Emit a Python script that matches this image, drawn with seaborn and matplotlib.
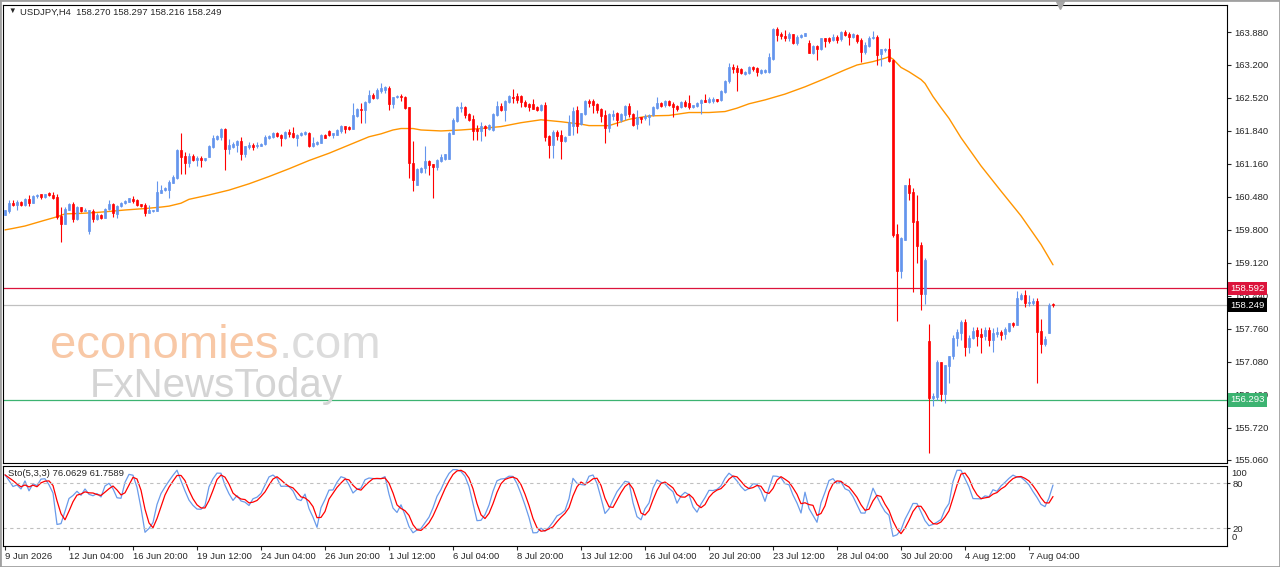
import numpy as np
import pandas as pd
import seaborn as sns
import matplotlib.pyplot as plt
from matplotlib.transforms import blended_transform_factory
from matplotlib.patches import Rectangle

sns.set_style("white")
plt.rcParams['font.family'] = ['Liberation Sans', 'DejaVu Sans']

# USDJPY H4 candles (bar 0 = 9 Jun 2026)
opens = [
    160.11, 160.18, 160.36, 160.31, 160.38, 160.31, 160.44, 160.36, 160.49, 160.54,
    160.47, 160.56, 160.52, 160.48, 160.08, 159.92, 160.22, 160.33, 160.02, 160.27,
    160.19, 159.78, 160.19, 160.02, 160.11, 160.05, 160.24, 160.33, 160.13, 160.29,
    160.35, 160.38, 160.44, 160.42, 160.33, 160.31, 160.15, 160.18, 160.18, 160.57,
    160.62, 160.62, 160.77, 160.86, 161.45, 161.32, 161.17, 161.32, 161.24, 161.28,
    161.24, 161.30, 161.50, 161.67, 161.72, 161.89, 161.47, 161.50, 161.55, 161.64,
    161.36, 161.50, 161.55, 161.52, 161.53, 161.57, 161.69, 161.72, 161.80, 161.76,
    161.69, 161.82, 161.80, 161.69, 161.75, 161.77, 161.80, 161.52, 161.57, 161.60,
    161.76, 161.84, 161.76, 161.76, 161.83, 161.94, 161.93, 161.88, 162.15, 162.29,
    162.27, 162.43, 162.58, 162.51, 162.66, 162.69, 162.73, 162.39, 162.53, 162.57,
    162.55, 162.33, 161.18, 160.72, 161.00, 161.07, 161.22, 161.16, 161.10, 161.21,
    161.26, 161.26, 161.77, 162.04, 162.32, 162.34, 162.18, 162.08, 161.89, 161.84,
    161.95, 161.89, 161.86, 162.17, 162.36, 162.27, 162.44, 162.55, 162.57, 162.57,
    162.43, 162.39, 162.39, 162.33, 162.27, 162.37, 161.74, 161.56, 161.82, 161.75,
    161.63, 161.75, 161.94, 162.27, 161.98, 162.19, 162.46, 162.46, 162.39, 162.29,
    162.17, 161.91, 162.15, 162.20, 162.07, 162.17, 162.35, 162.19, 161.98, 162.12,
    162.10, 162.12, 162.17, 162.31, 162.42, 162.37, 162.46, 162.40, 162.35, 162.33,
    162.44, 162.41, 162.33, 162.35, 162.41, 162.48, 162.44, 162.46, 162.49, 162.48,
    162.65, 162.86, 163.16, 163.14, 163.11, 163.01, 163.03, 163.16, 163.13, 163.04,
    163.05, 163.06, 163.32, 163.95, 163.84, 163.80, 163.75, 163.84, 163.66, 163.77,
    163.80, 163.66, 163.44, 163.59, 163.52, 163.75, 163.75, 163.71, 163.77, 163.73,
    163.89, 163.84, 163.78, 163.82, 163.71, 163.47, 163.59, 163.75, 163.78, 163.43,
    163.50, 163.52, 163.30, 159.71, 158.96, 159.60, 160.72, 160.59, 159.98, 159.49,
    158.48, 157.51, 156.33, 156.36, 157.08, 156.42, 157.00, 157.19, 157.58, 157.68,
    157.91, 157.39, 157.58, 157.73, 157.65, 157.61, 157.74, 157.52, 157.66, 157.70,
    157.65, 157.72, 157.87, 157.83, 158.37, 158.46, 158.30, 158.29, 158.34, 157.72,
    157.45, 157.68, 158.27]

highs = [
    160.22, 160.42, 160.42, 160.42, 160.39, 160.45, 160.52, 160.52, 160.54, 160.55,
    160.55, 160.59, 160.59, 160.55, 160.27, 160.28, 160.36, 160.38, 160.29, 160.28,
    160.25, 160.22, 160.24, 160.14, 160.12, 160.26, 160.42, 160.36, 160.31, 160.37,
    160.42, 160.46, 160.49, 160.43, 160.34, 160.35, 160.31, 160.22, 160.80, 160.73,
    160.68, 160.82, 160.93, 161.46, 161.80, 161.41, 161.39, 161.37, 161.32, 161.32,
    161.29, 161.55, 161.76, 161.76, 161.91, 161.91, 161.67, 161.62, 161.66, 161.72,
    161.53, 161.62, 161.60, 161.62, 161.60, 161.76, 161.76, 161.82, 161.82, 161.77,
    161.83, 161.88, 161.93, 161.78, 161.82, 161.84, 161.82, 161.72, 161.64, 161.77,
    161.77, 161.86, 161.80, 161.87, 161.96, 161.95, 161.94, 162.41, 162.31, 162.42,
    162.46, 162.68, 162.62, 162.72, 162.82, 162.77, 162.77, 162.54, 162.59, 162.61,
    162.57, 162.33, 161.63, 161.07, 161.10, 161.52, 161.25, 161.16, 161.26, 161.36,
    161.37, 161.81, 162.10, 162.36, 162.44, 162.36, 162.20, 162.17, 161.96, 162.03,
    161.96, 161.98, 162.20, 162.46, 162.41, 162.48, 162.59, 162.70, 162.62, 162.59,
    162.48, 162.41, 162.50, 162.35, 162.39, 162.44, 161.75, 161.86, 161.86, 161.86,
    161.74, 162.17, 162.33, 162.35, 162.22, 162.48, 162.49, 162.49, 162.41, 162.31,
    162.27, 162.20, 162.27, 162.24, 162.22, 162.37, 162.41, 162.20, 162.27, 162.13,
    162.19, 162.19, 162.35, 162.53, 162.44, 162.48, 162.48, 162.44, 162.37, 162.46,
    162.48, 162.58, 162.38, 162.44, 162.49, 162.60, 162.53, 162.53, 162.50, 162.68,
    162.89, 163.25, 163.23, 163.20, 163.13, 163.08, 163.18, 163.18, 163.16, 163.12,
    163.12, 163.45, 163.97, 163.99, 163.89, 163.93, 163.87, 163.84, 163.82, 163.84,
    163.86, 163.71, 163.61, 163.61, 163.76, 163.76, 163.78, 163.84, 163.82, 163.91,
    163.93, 163.87, 163.85, 163.84, 163.75, 163.68, 163.80, 163.91, 163.82, 163.54,
    163.56, 163.75, 163.32, 159.93, 159.66, 160.72, 160.88, 160.66, 160.52, 159.56,
    159.21, 157.86, 156.43, 157.11, 157.08, 157.01, 157.20, 157.64, 157.75, 157.94,
    157.96, 157.63, 157.80, 157.80, 157.77, 157.79, 157.79, 157.77, 157.79, 157.74,
    157.79, 157.89, 157.91, 158.53, 158.49, 158.57, 158.46, 158.39, 158.39, 157.96,
    157.61, 158.29, 158.30]

lows = [
    160.11, 160.14, 160.29, 160.22, 160.29, 160.29, 160.29, 160.35, 160.45, 160.43,
    160.46, 160.49, 160.43, 160.02, 159.54, 159.92, 160.21, 159.96, 160.00, 160.16,
    160.18, 159.72, 159.97, 160.00, 160.03, 160.04, 160.22, 160.07, 160.04, 160.27,
    160.34, 160.37, 160.36, 160.30, 160.28, 160.08, 160.14, 160.17, 160.18, 160.56,
    160.61, 160.45, 160.76, 160.84, 160.95, 160.95, 161.10, 161.21, 161.12, 161.10,
    161.22, 161.30, 161.48, 161.65, 161.65, 161.03, 161.36, 161.48, 161.41, 161.24,
    161.31, 161.46, 161.45, 161.48, 161.52, 161.55, 161.67, 161.69, 161.72, 161.52,
    161.68, 161.72, 161.69, 161.53, 161.74, 161.75, 161.51, 161.50, 161.55, 161.59,
    161.69, 161.74, 161.69, 161.75, 161.79, 161.79, 161.86, 161.88, 162.13, 162.01,
    162.01, 162.42, 162.50, 162.49, 162.62, 162.62, 162.28, 162.31, 162.51, 162.46,
    162.29, 160.86, 160.60, 160.72, 160.97, 160.97, 160.94, 160.46, 161.03, 161.19,
    161.25, 161.26, 161.77, 162.02, 162.24, 162.10, 162.04, 161.65, 161.65, 161.63,
    161.74, 161.85, 161.84, 162.15, 162.25, 162.04, 162.41, 162.41, 162.41, 162.34,
    162.34, 162.25, 162.29, 162.25, 162.25, 161.63, 161.28, 161.28, 161.65, 161.27,
    161.62, 161.75, 161.76, 161.80, 161.96, 162.17, 162.33, 162.22, 162.22, 162.03,
    161.60, 161.82, 162.07, 161.94, 162.03, 162.07, 162.13, 161.94, 161.87, 162.01,
    162.07, 161.96, 162.15, 162.29, 162.34, 162.34, 162.35, 162.12, 162.26, 162.31,
    162.33, 162.29, 162.32, 162.33, 162.19, 162.44, 162.42, 162.41, 162.44, 162.46,
    162.63, 162.83, 163.04, 162.67, 163.01, 163.00, 163.01, 163.08, 162.97, 163.02,
    163.03, 163.04, 163.30, 163.70, 163.73, 163.70, 163.70, 163.63, 163.61, 163.75,
    163.79, 163.44, 163.43, 163.30, 163.51, 163.58, 163.65, 163.70, 163.66, 163.70,
    163.80, 163.61, 163.75, 163.66, 163.27, 163.43, 163.58, 163.73, 163.20, 163.18,
    163.47, 163.27, 159.66, 157.93, 158.80, 159.60, 160.42, 158.51, 159.12, 158.14,
    158.27, 155.19, 156.17, 156.29, 156.28, 156.22, 156.64, 157.13, 157.41, 157.53,
    157.19, 157.27, 157.54, 157.41, 157.27, 157.53, 157.41, 157.29, 157.59, 157.53,
    157.56, 157.70, 157.79, 157.83, 158.35, 158.20, 158.23, 158.25, 156.65, 157.27,
    157.41, 157.68, 158.22]

closes = [
    160.21, 160.36, 160.31, 160.38, 160.31, 160.44, 160.36, 160.50, 160.52, 160.47,
    160.54, 160.51, 160.46, 160.07, 159.92, 160.24, 160.33, 160.02, 160.27, 160.18,
    160.21, 160.21, 160.02, 160.11, 160.05, 160.24, 160.33, 160.14, 160.29, 160.35,
    160.40, 160.45, 160.40, 160.31, 160.29, 160.15, 160.20, 160.21, 160.59, 160.62,
    160.66, 160.79, 160.90, 161.45, 161.31, 161.17, 161.32, 161.24, 161.28, 161.24,
    161.28, 161.53, 161.69, 161.73, 161.87, 161.47, 161.55, 161.57, 161.64, 161.36,
    161.52, 161.55, 161.50, 161.55, 161.58, 161.72, 161.73, 161.80, 161.74, 161.69,
    161.82, 161.78, 161.71, 161.76, 161.79, 161.82, 161.52, 161.60, 161.62, 161.76,
    161.70, 161.76, 161.79, 161.86, 161.94, 161.88, 161.88, 162.17, 162.29, 162.27,
    162.44, 162.58, 162.51, 162.68, 162.72, 162.74, 162.39, 162.54, 162.57, 162.53,
    162.31, 161.18, 160.83, 161.05, 161.08, 161.21, 161.14, 161.10, 161.24, 161.31,
    161.36, 161.79, 162.06, 162.34, 162.34, 162.17, 162.06, 161.84, 161.84, 161.95,
    161.91, 161.96, 162.18, 162.36, 162.27, 162.46, 162.57, 162.51, 162.48, 162.43,
    162.36, 162.34, 162.30, 162.27, 162.37, 161.72, 161.56, 161.82, 161.74, 161.63,
    161.72, 162.03, 162.26, 161.94, 162.20, 162.46, 162.42, 162.38, 162.27, 162.15,
    161.91, 162.19, 162.19, 162.07, 162.19, 162.35, 162.19, 161.96, 162.12, 162.08,
    162.15, 162.17, 162.33, 162.42, 162.35, 162.46, 162.37, 162.33, 162.30, 162.44,
    162.35, 162.33, 162.37, 162.41, 162.48, 162.44, 162.50, 162.49, 162.46, 162.67,
    162.88, 163.16, 163.11, 163.06, 163.03, 163.06, 163.16, 163.11, 163.06, 163.10,
    163.10, 163.37, 163.95, 163.82, 163.80, 163.75, 163.84, 163.66, 163.77, 163.82,
    163.85, 163.45, 163.59, 163.52, 163.75, 163.70, 163.70, 163.77, 163.71, 163.89,
    163.82, 163.78, 163.84, 163.70, 163.47, 163.61, 163.75, 163.78, 163.41, 163.52,
    163.54, 163.29, 159.69, 158.96, 159.63, 160.72, 160.57, 159.97, 159.47, 158.48,
    159.18, 156.33, 156.38, 157.08, 156.42, 157.01, 157.19, 157.58, 157.70, 157.91,
    157.39, 157.58, 157.72, 157.61, 157.60, 157.74, 157.52, 157.68, 157.70, 157.63,
    157.75, 157.87, 157.83, 158.39, 158.46, 158.30, 158.32, 158.34, 157.70, 157.45,
    157.54, 158.25, 158.249]

# orange moving average, sampled along the line
ma_bar = [0, 2, 5, 10, 13, 15, 19, 23, 26, 30, 35, 39, 41, 44, 46, 51, 56, 61, 66,
          71, 76, 81, 86, 91, 94, 97, 99, 102, 104, 109, 114, 119, 124, 129, 134,
          139, 144, 146, 151, 156, 161, 166, 171, 176, 180, 183, 186, 190, 195, 200,
          205, 210, 213, 217, 220, 221, 222, 224, 226, 229, 230, 232, 234, 236, 239,
          244, 249, 254, 259, 262]
ma_val = [159.80, 159.83, 159.88, 160.00, 160.07, 160.13, 160.14, 160.16, 160.18,
          160.21, 160.24, 160.27, 160.29, 160.35, 160.43, 160.52, 160.62, 160.75,
          160.90, 161.06, 161.23, 161.38, 161.55, 161.72, 161.78, 161.86, 161.89,
          161.89, 161.86, 161.84, 161.86, 161.89, 161.93, 162.01, 162.07, 162.03,
          161.98, 161.95, 161.95, 162.08, 162.15, 162.16, 162.22, 162.22, 162.24,
          162.31, 162.40, 162.48, 162.60, 162.75, 162.92, 163.10, 163.20, 163.27,
          163.34, 163.37, 163.32, 163.15, 163.06, 162.90, 162.82, 162.55, 162.32,
          162.10, 161.70, 161.12, 160.60, 160.09, 159.50, 159.08]

xtick_labels = ['9 Jun 2026', '12 Jun 04:00', '16 Jun 20:00', '19 Jun 12:00',
                '24 Jun 04:00', '26 Jun 20:00', '1 Jul 12:00', '6 Jul 04:00',
                '8 Jul 20:00', '13 Jul 12:00', '16 Jul 04:00', '20 Jul 20:00',
                '23 Jul 12:00', '28 Jul 04:00', '30 Jul 20:00', '4 Aug 12:00',
                '7 Aug 04:00']
price_ticks = [163.880, 163.200, 162.520, 161.840, 161.160, 160.480, 159.800,
               159.120, 158.440, 157.760, 157.080, 156.400, 155.720, 155.060]

resistance = 158.592
support = 156.293
bid = 158.249

df = pd.DataFrame({'open': opens, 'high': highs, 'low': lows, 'close': closes})
df['bar'] = np.arange(len(df))
colors = np.where(df['close'] >= df['open'], '#6495ED', '#FF0000')

# stochastic (5,3,3) from the candles
ll = df['low'].rolling(5, min_periods=1).min()
hh = df['high'].rolling(5, min_periods=1).max()
k_line = 100 * (df['close'] - ll).rolling(3, min_periods=1).sum() / (hh - ll).rolling(3, min_periods=1).sum()
d_line = k_line.rolling(3, min_periods=1).mean()

fig = plt.figure(figsize=(12.8, 5.67), dpi=100)
ax = fig.add_axes([3/1280, 104/567, 1224/1280, 458/567])
ax2 = fig.add_axes([3/1280, 21/567, 1224/1280, 80/567])

# watermark behind the chart
fig.text(50/1280, 1 - 346/567, 'economies', fontsize=34, color='#F8C8A6', va='center', ha='left', zorder=0)
fig.text(279/1280, 1 - 346/567, '.com', fontsize=34, color='#DCDCDC', va='center', ha='left', zorder=0)
fig.text(90/1280, 1 - 386/567, 'FxNewsToday', fontsize=29, color='#D4D4D4', va='center', ha='left', zorder=0)
ax.patch.set_alpha(0)

# main price panel
sns.lineplot(x=ma_bar, y=ma_val, ax=ax, color='#FF9500', linewidth=1, zorder=1)
ax.axhline(resistance, color='#DC143C', lw=0.9, zorder=1.5)
ax.axhline(bid, color='#C0C0C0', lw=0.9, zorder=1.5)
ax.axhline(support, color='#3CB371', lw=0.9, zorder=1.5)
ax.vlines(df['bar'], df['low'], df['high'], colors=colors, linewidth=0.8, zorder=2)
ax.bar(df['bar'], (df['close'] - df['open']).abs(), bottom=df[['open', 'close']].min(axis=1),
       width=0.6, color=colors, edgecolor=colors, linewidth=0.5, zorder=3)

ax.set_xlim(-0.5, 305.5)
ax.set_ylim(154.993, 164.437)
ax.set_xticks([])
ax.yaxis.tick_right()
ax.set_yticks(price_ticks)
ax.set_yticklabels([f'{v:.3f}' for v in price_ticks])
ax.tick_params(axis='y', direction='out', length=3, width=0.8, labelsize=6.8, pad=2, right=True)
ax.set_xlabel('')
ax.set_ylabel('')
for s in ax.spines.values():
    s.set_color('black')
    s.set_linewidth(0.8)

trans = blended_transform_factory(ax.transAxes, ax.transData)
for val, bg in [(resistance, '#DC143C'), (bid, '#000000'), (support, '#3CB371')]:
    ax.text(1.0025, val, f'{val:.3f}', transform=trans, color='white', fontsize=6.8,
            va='center', ha='left', clip_on=False, zorder=6,
            bbox=dict(boxstyle='square,pad=0.25', fc=bg, ec='none'))

ax.text(0.0045, 0.985, '\u25bc', transform=ax.transAxes, fontsize=5.5, va='center', ha='left')
ax.text(0.0139, 0.985, 'USDJPY,H4  158.270 158.297 158.216 158.249', transform=ax.transAxes,
        fontsize=6.8, va='center', ha='left')
ax.plot([0.8636], [1.0], marker='v', markersize=6, color='#A8A8A8', transform=ax.transAxes,
        clip_on=False, zorder=7)

# stochastic panel
sns.lineplot(x=df['bar'], y=k_line, ax=ax2, color='#6A9BEA', linewidth=0.9)
sns.lineplot(x=df['bar'], y=d_line, ax=ax2, color='#FF0000', linewidth=0.9)
ax2.axhline(80, color='#C0C0C0', lw=0.8, ls=(0, (3, 3)))
ax2.axhline(20, color='#C0C0C0', lw=0.8, ls=(0, (3, 3)))
ax2.set_xlim(-0.5, 305.5)
ax2.set_ylim(-4, 102.7)
ax2.set_xlabel('')
ax2.set_ylabel('')
ax2.set_xticks(np.arange(0, 16 * len(xtick_labels), 16))
ax2.set_xticklabels(xtick_labels, ha='left')
ax2.tick_params(axis='x', direction='out', length=3, width=0.8, labelsize=6.8, pad=1, bottom=True)
ax2.yaxis.tick_right()
ax2.set_yticks([80, 20])
ax2.set_yticklabels(['80', '20'])
ax2.tick_params(axis='y', direction='out', length=2, width=0.8, labelsize=6.8, pad=2, right=True)
for s in ax2.spines.values():
    s.set_color('black')
    s.set_linewidth(0.8)
trans2 = blended_transform_factory(ax2.transAxes, ax2.transData)
ax2.text(1.0035, 93, '100', transform=trans2, fontsize=6.8, va='center', ha='left', clip_on=False)
ax2.text(1.0035, 8, '0', transform=trans2, fontsize=6.8, va='center', ha='left', clip_on=False)
ax2.text(0.004, 0.9, 'Sto(5,3,3) 76.0629 61.7589', transform=ax2.transAxes, fontsize=6.8,
         va='center', ha='left')

fig.patches.append(Rectangle((0, 0), 1, 1, transform=fig.transFigure, fill=False,
                             edgecolor='#A0A0A0', linewidth=2))

fig.savefig('out.png', dpi=100)
